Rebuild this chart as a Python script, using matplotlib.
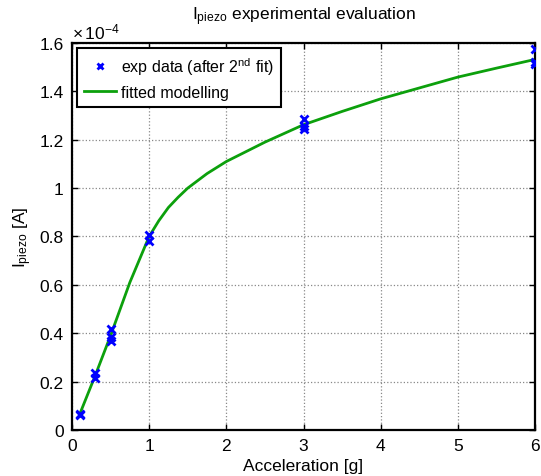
import matplotlib
matplotlib.use('Agg')
import matplotlib.pyplot as plt

plt.rcParams['font.family'] = ['Liberation Sans', 'DejaVu Sans']
plt.rcParams['mathtext.fontset'] = 'custom'
plt.rcParams['mathtext.rm'] = 'Liberation Sans'
plt.rcParams['mathtext.it'] = 'Liberation Sans'

# measured points (current in units of 1e-4 A)
acc_exp = [0.1, 0.1, 0.3, 0.3, 0.5, 0.5, 0.5, 1, 1, 3, 3, 3, 6, 6, 6]
cur_exp = [0.065, 0.062, 0.235, 0.213, 0.417, 0.383, 0.369, 0.806, 0.783,
           1.287, 1.256, 1.245, 1.576, 1.514, 1.520]

# fitted model
acc_fit = [0.1, 0.3, 0.5, 0.75, 1, 1.125, 1.25, 1.375, 1.5, 1.75, 2, 2.5, 3, 3.5, 4, 4.5, 5, 5.5, 6]
cur_fit = [0.065, 0.224, 0.39, 0.61, 0.80, 0.865, 0.92, 0.962, 1.0, 1.06, 1.11, 1.19, 1.262,
           1.317, 1.369, 1.414, 1.459, 1.496, 1.532]

x_ticks = [0, 1, 2, 3, 4, 5, 6]
y_ticks = [0, 0.2, 0.4, 0.6, 0.8, 1.0, 1.2, 1.4, 1.6]
y_ticklabels = ['0', '0.2', '0.4', '0.6', '0.8', '1', '1.2', '1.4', '1.6']

fig = plt.figure(figsize=(5.41, 4.77), dpi=100)
ax = fig.add_axes([0.133, 0.0964, 0.856, 0.8114])

ax.plot(acc_fit, cur_fit, color='#0ca00c', lw=2, label='fitted modelling', zorder=2)
ax.plot(acc_exp, cur_exp, 'x', color='#0000ff', ms=6, mew=2,
        label=r'exp data (after 2$^{\mathregular{nd}}$ fit)', zorder=3)

ax.set_xlim(0, 6)
ax.set_ylim(0, 1.6)
ax.set_xticks(x_ticks)
ax.set_yticks(y_ticks)
ax.set_yticklabels(y_ticklabels)
ax.tick_params(direction='in', top=True, right=True, labelsize=12.5, length=4, width=1, pad=6)
ax.grid(True, linestyle=':', color='#888888', lw=0.9)
for s in ax.spines.values():
    s.set_linewidth(1.6)

ax.text(0.0, 1.005, r'$\times\,10^{-4}$', transform=ax.transAxes, fontsize=12.5,
        ha='left', va='bottom')

ax.set_title(r'$\mathregular{I_{piezo}}$ experimental evaluation', fontsize=12.5, pad=17)
ax.set_xlabel('Acceleration [g]', fontsize=12.5, labelpad=3)
ax.set_ylabel(r'$\mathregular{I_{piezo}}$ [A]', fontsize=12.5, labelpad=4)

handles, labels = ax.get_legend_handles_labels()
leg = ax.legend(handles[::-1], labels[::-1], loc='upper left', fontsize=11.5,
                fancybox=False, framealpha=1, edgecolor='black', markerscale=0.8,
                borderaxespad=0.3, handlelength=2.0, handletextpad=0.3,
                borderpad=0.45, labelspacing=0.5)
leg.get_frame().set_linewidth(1.5)

fig.savefig('out.png', dpi=100)
